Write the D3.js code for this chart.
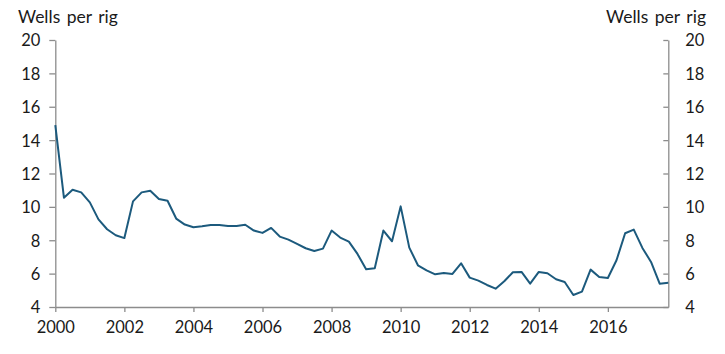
<!DOCTYPE html>
<html>
<head>
<meta charset="utf-8">
<script src="https://cdn.jsdelivr.net/npm/d3@7"></script>
<style>
  html, body { margin: 0; padding: 0; background: #ffffff; }
  svg { display: block; font-family: Lato, "Open Sans", sans-serif; }
</style>
</head>
<body>
<svg id="chart" width="725" height="354"></svg>
<script>
// Quarterly data, 2000 Q1 .. 2017 Q4
const startYear = 2000;
const wellsPerRig = [
  14.9, 10.55, 11.03, 10.87,
  10.27, 9.25, 8.66, 8.3,
  8.13, 10.33, 10.87, 10.97,
  10.47, 10.37, 9.3, 8.94,
  8.78, 8.84, 8.92, 8.92,
  8.86, 8.86, 8.93, 8.58,
  8.44, 8.74, 8.22, 8.04,
  7.78, 7.52, 7.36, 7.5,
  8.58, 8.16, 7.92, 7.18,
  6.26, 6.32, 8.58, 7.94,
  10.03, 7.56, 6.5, 6.2,
  5.96, 6.04, 5.98, 6.62,
  5.76, 5.58, 5.32, 5.1,
  5.54, 6.08, 6.1, 5.4,
  6.1, 6.02, 5.66, 5.5,
  4.72, 4.92, 6.24, 5.8,
  5.74, 6.8, 8.42, 8.64,
  7.54, 6.7, 5.4, 5.46
];
const xTickValues = [2000, 2002, 2004, 2006, 2008, 2010, 2012, 2014, 2016];
const yTickValues = [4, 6, 8, 10, 12, 14, 16, 18, 20];
const axisTitle = "Wells per rig";

const data = wellsPerRig.map((v, i) => ({ t: startYear + i * 0.25, v }));

const svg = d3.select("#chart");
const mLeft = 55.3, mRight = 668.3, mTop = 40, mBottom = 307;
const axisColor = "#8c8c8c";
const textColor = "#1a1a1a";

const x = d3.scaleLinear().domain([2000, 2017.75]).range([mLeft, mRight]);
const y = d3.scaleLinear().domain([4, 20]).range([mBottom, mTop]);

function styleAxis(g) {
  g.selectAll("path.domain").attr("stroke", axisColor).attr("stroke-width", 1.3);
  g.selectAll(".tick line").attr("stroke", axisColor).attr("stroke-width", 1.3);
  g.selectAll(".tick text").attr("fill", textColor)
    .style("font-size", "16.5px").style("font-family", "Lato, 'Open Sans', sans-serif");
}

// Bottom axis
svg.append("g")
  .attr("transform", `translate(0,${mBottom})`)
  .call(d3.axisBottom(x).tickValues(xTickValues).tickFormat(d3.format("d"))
        .tickSize(5).tickSizeOuter(0).tickPadding(9))
  .call(styleAxis);

// Left axis
svg.append("g")
  .attr("transform", `translate(${mLeft},0)`)
  .call(d3.axisLeft(y).tickValues(yTickValues).tickFormat(d3.format("d"))
        .tickSize(6).tickSizeOuter(0).tickPadding(9))
  .call(styleAxis)
  .selectAll(".tick text").attr("dy", "0.36em");

// Right axis (ticks pointing inward)
const rg = svg.append("g")
  .attr("transform", `translate(${mRight},0)`)
  .call(d3.axisRight(y).tickValues(yTickValues).tickFormat(d3.format("d"))
        .tickSize(-5).tickSizeOuter(0).tickPadding(17))
  .call(styleAxis);
rg.selectAll(".tick text").attr("x", 17).attr("dy", "0.36em");

// Titles
svg.append("text").attr("x", 18).attr("y", 23)
  .attr("fill", textColor).style("font-size", "17.5px").style("word-spacing", "2px")
  .text(axisTitle);
svg.append("text").attr("x", 706).attr("y", 23)
  .attr("text-anchor", "end")
  .attr("fill", textColor).style("font-size", "17.5px").style("word-spacing", "2px")
  .text(axisTitle);

// Line
const line = d3.line().x(d => x(d.t)).y(d => y(d.v));
svg.append("path")
  .datum(data)
  .attr("fill", "none")
  .attr("stroke", "#1c5a7d")
  .attr("stroke-width", 2)
  .attr("stroke-linejoin", "round")
  .attr("d", line);
</script>
</body>
</html>
